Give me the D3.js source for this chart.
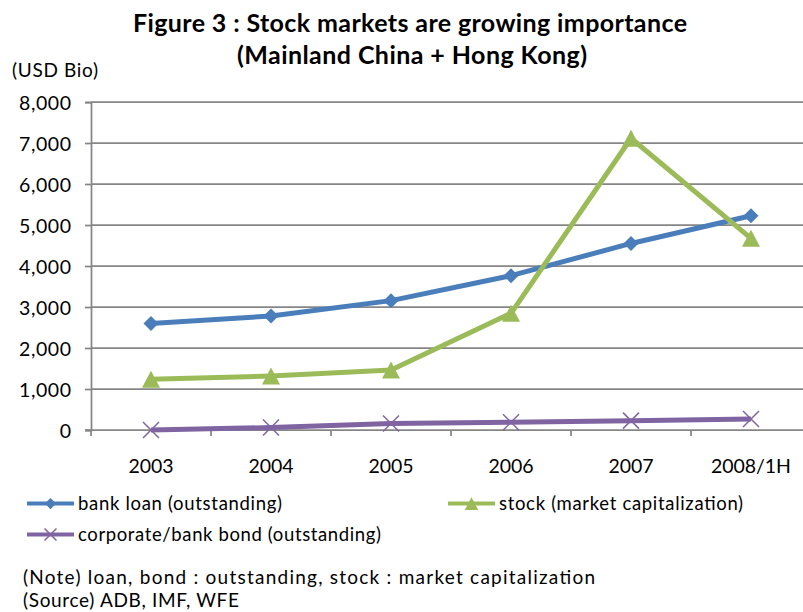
<!DOCTYPE html>
<html>
<head>
<meta charset="utf-8">
<script src="https://cdn.jsdelivr.net/npm/d3@7/dist/d3.min.js"></script>
<style>
  html, body { margin: 0; padding: 0; background: #fff; overflow: hidden; }
  text { font-family: Lato, "Open Sans", sans-serif; fill: #000; }
</style>
</head>
<body>
<svg id="chart" width="803" height="612"></svg>
<script>
// Years on the category axis
const years = ["2003", "2004", "2005", "2006", "2007", "2008/1H"];
// USD billions
const bankLoan = [2600, 2780, 3155, 3765, 4550, 5225];
const stockCap = [1235, 1317, 1463, 2845, 7115, 4675];
const bondOut = [0, 60, 160, 190, 228, 268];
const yTicks = [0, 1000, 2000, 3000, 4000, 5000, 6000, 7000, 8000];

const series = [
  { name: "bank loan (outstanding)", values: bankLoan, color: "#4A7EBB", marker: "diamond" },
  { name: "stock (market capitalization)", values: stockCap, color: "#9BBB59", marker: "triangle" },
  { name: "corporate/bank bond (outstanding)", values: bondOut, color: "#8064A2", marker: "cross" }
];

const svg = d3.select("#chart");
const plotLeft = 91, plotRight = 811, plotTop = 102, plotBottom = 430;
const gridColor = "#868686";

const x = d3.scaleBand().domain(years).range([plotLeft, plotRight]);
const y = d3.scaleLinear().domain([0, 8000]).range([plotBottom, plotTop]);

// Helper for a text run stretched to a given width
function label(px, py, str, size, width, bold) {
  const t = svg.append("text").attr("x", px).attr("y", py)
    .attr("font-size", size).text(str);
  if (bold) t.attr("font-weight", "bold");
  if (width) t.attr("textLength", width).attr("lengthAdjust", "spacing");
  return t;
}

// Widen a group of labels by a common factor, keyed on one reference label
function spread(sel, refText, refWidth) {
  let base = null;
  sel.each(function () { if (this.textContent === refText) base = this.getComputedTextLength(); });
  if (!base) return;
  const k = refWidth / base;
  sel.each(function () {
    const w = this.getComputedTextLength();
    if (this.textContent.length > 1) {
      d3.select(this).attr("textLength", w * k).attr("lengthAdjust", "spacing");
    }
  });
}

// Title
label(133, 31.5, "Figure 3 : Stock markets are growing importance", 25, 554, true);
label(237, 63.5, "(Mainland China + Hong Kong)", 25, 350, true);

label(12, 77, "(USD Bio)", 19, 86);

// Horizontal gridlines
svg.append("g").selectAll("line").data(yTicks.slice(1)).join("line")
  .attr("x1", plotLeft).attr("x2", plotRight)
  .attr("y1", d => y(d)).attr("y2", d => y(d))
  .attr("stroke", gridColor).attr("stroke-width", 1.75);

// Value axis
const yAxis = svg.append("g").attr("transform", `translate(${plotLeft},0)`)
  .call(d3.axisLeft(y).tickValues(yTicks).tickSize(6).tickPadding(14)
    .tickFormat(d3.format(",")));
yAxis.select(".domain").attr("stroke", gridColor).attr("stroke-width", 1.75);
yAxis.selectAll(".tick line").attr("stroke", gridColor).attr("stroke-width", 1.75);
yAxis.selectAll("text").attr("font-size", 19.5).attr("font-family", "Lato, sans-serif")
  .attr("fill", "#000").attr("dy", "0.4em");
spread(yAxis.selectAll("text"), "8,000", 52);

// Category axis with ticks on band boundaries
const xAxisG = svg.append("g").attr("transform", `translate(0,${plotBottom})`);
xAxisG.append("line").attr("x1", plotLeft - 6).attr("x2", plotRight)
  .attr("stroke", gridColor).attr("stroke-width", 1.75);
const bounds = years.map(d => x(d)).concat([x(years[years.length - 1]) + x.bandwidth()]);
xAxisG.selectAll("line.tk").data(bounds).join("line").attr("class", "tk")
  .attr("x1", d => d).attr("x2", d => d).attr("y1", 0).attr("y2", 6)
  .attr("stroke", gridColor).attr("stroke-width", 1.75);
const xLabels = xAxisG.selectAll("text").data(years).join("text")
  .attr("x", d => x(d) + x.bandwidth() / 2).attr("y", 42.5)
  .attr("text-anchor", "middle").attr("font-size", 19.5).text(d => d);
spread(xLabels, "2003", 45);

const cx = d => x(d) + x.bandwidth() / 2;

function drawMarker(g, type, color, px, py, scale) {
  const s = scale || 1;
  if (type === "diamond") {
    const r = 7.5 * s;
    g.append("path").attr("d", `M${px},${py - r}L${px + r},${py}L${px},${py + r}L${px - r},${py}Z`)
      .attr("fill", color);
  } else if (type === "triangle") {
    const w = 9 * s, h = 8.5 * s;
    g.append("path").attr("d", `M${px},${py - h}L${px + w},${py + h}L${px - w},${py + h}Z`)
      .attr("fill", color);
  } else {
    const r = 8 * s;
    g.append("path").attr("d", `M${px - r},${py - r}L${px + r},${py + r}M${px - r},${py + r}L${px + r},${py - r}`)
      .attr("stroke", color).attr("stroke-width", 1.5).attr("fill", "none");
  }
}

const line = d3.line().x((d, i) => cx(years[i])).y(d => y(d));

// Draw series (bond first so it stays beneath)
[series[2], series[0], series[1]].forEach(s => {
  const g = svg.append("g");
  g.append("path").datum(s.values).attr("d", line)
    .attr("fill", "none").attr("stroke", s.color).attr("stroke-width", 5)
    .attr("stroke-linejoin", "round");
  s.values.forEach((v, i) => drawMarker(g, s.marker, s.color, cx(years[i]), y(v)));
});

// Legend
const legendItems = [
  { s: series[0], lx: 27, ly: 503.5, w: 204 },
  { s: series[1], lx: 448, ly: 503.5, w: 244 },
  { s: series[2], lx: 27, ly: 534.5, w: 303 }
];
legendItems.forEach(it => {
  const g = svg.append("g");
  g.append("line").attr("x1", it.lx).attr("x2", it.lx + 47).attr("y1", it.ly).attr("y2", it.ly)
    .attr("stroke", it.s.color).attr("stroke-width", 4);
  drawMarker(g, it.s.marker, it.s.color, it.lx + 23.5, it.ly, 0.75);
  label(it.lx + 51, it.ly + 6.5, it.s.name, 18.5, it.w);
});

// Footnotes
label(23, 583.5, "(Note) loan, bond : outstanding, stock : market capitalization", 19, 572);
label(23, 607, "(Source) ADB,  IMF, WFE", 19, 216);
</script>
</body>
</html>
